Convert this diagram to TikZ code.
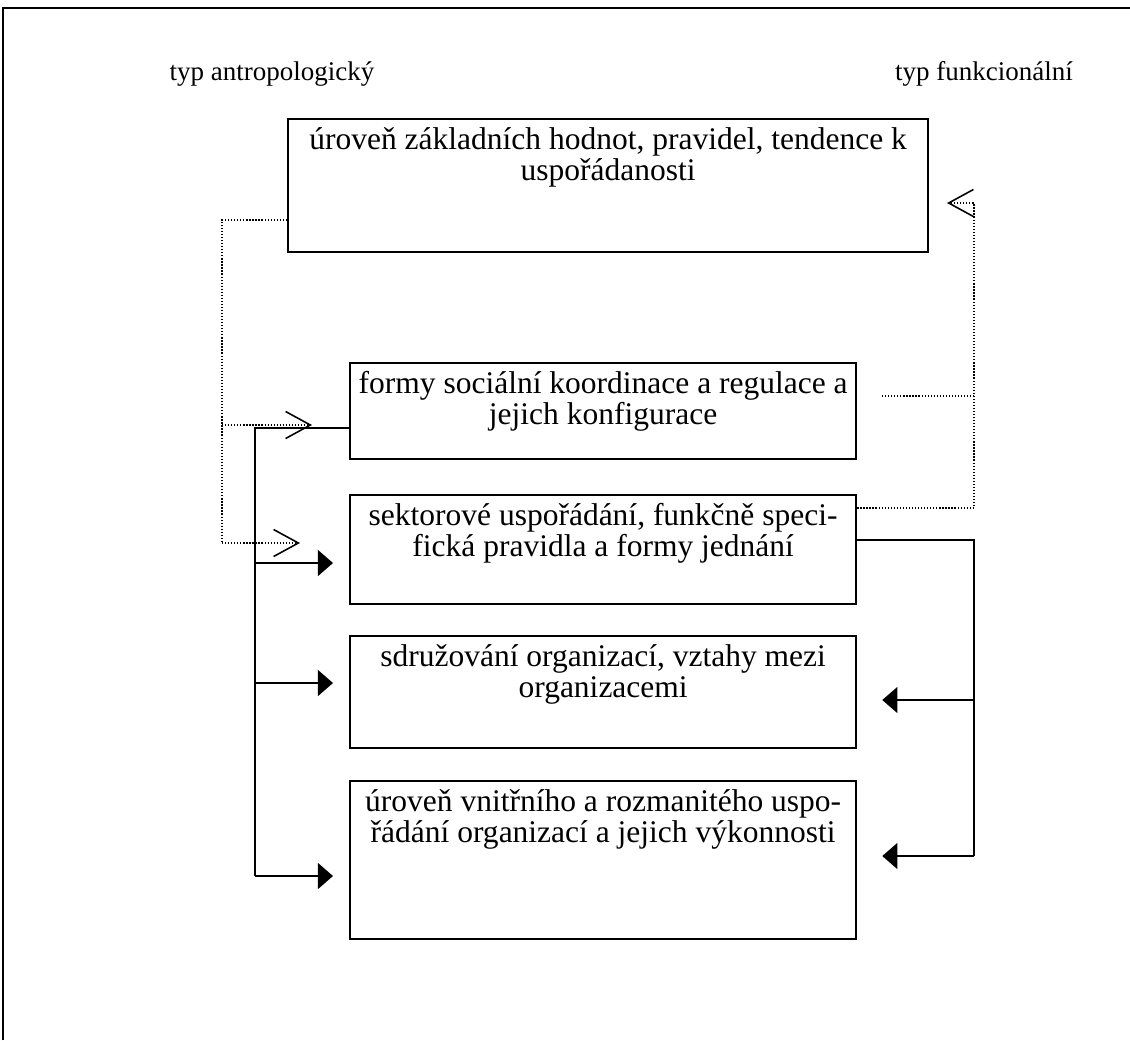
\documentclass[tikz,border=0pt]{standalone}
\usepackage{fontspec}
\setmainfont{Liberation Serif}
\usetikzlibrary{arrows.meta,calc}
\newcommand\boxtext[1]{\parbox[t]{380pt}{\centering #1}}
\begin{document}
\begin{tikzpicture}[x=0.4444pt,y=-0.4444pt,
  box/.style={draw, line width=1.0pt, inner sep=0pt, anchor=north west},
  txt/.style={inner sep=0pt, anchor=base, font=\fontsize{12}{13.8}\selectfont},
  btxt/.style={inner sep=0pt, anchor=base, font=\fontsize{14}{14}\selectfont},
  conn/.style={line width=0.7pt},
  fillarrow/.style={conn, -{Triangle[length=6.7pt,width=11.5pt]}},
  dotline/.style={line width=0.6pt, dash pattern=on 0.55pt off 0.8pt},
  openarrow/.style={dotline, -{Straight Barb[length=11pt,width=12pt,line width=0.7pt]}}
]
\useasboundingbox (0,0) rectangle (1130,1040);
% frame
\draw[line width=0.9pt] (3,1040) -- (3,8) -- (1130,8);
% headings
\node[txt] (ta) at (272,80) {typ antropologický};
\node[txt] (tf) at (984,80) {typ funkcionální};
% boxes
\node[box, minimum width=640*0.4444pt, minimum height=133*0.4444pt] (b1) at (287,118) {};
\node[box, minimum width=506*0.4444pt, minimum height=96*0.4444pt] (b2) at (349,362) {};
\node[box, minimum width=506*0.4444pt, minimum height=109*0.4444pt] (b3) at (349,494) {};
\node[box, minimum width=506*0.4444pt, minimum height=112*0.4444pt] (b4) at (349,635) {};
\node[box, minimum width=506*0.4444pt, minimum height=158*0.4444pt] (b5) at (349,780) {};
% box texts
\node[btxt] (t1) at ($(b1.north)+(0,31)$) {\boxtext{úroveň základních hodnot, pravidel, tendence k\\uspořádanosti}};
\node[btxt] (t2) at ($(b2.north)+(0,31)$) {\boxtext{formy sociální koordinace a regulace a\\jejich konfigurace}};
\node[btxt] (t3) at ($(b3.north)+(0,31)$) {\boxtext{sektorové uspořádání, funkčně speci-\\fická pravidla a formy jednání}};
\node[btxt] (t4) at ($(b4.north)+(0,31)$) {\boxtext{sdružování organizací, vztahy mezi\\organizacemi}};
\node[btxt] (t5) at ($(b5.north)+(0,31)$) {\boxtext{úroveň vnitřního a rozmanitého uspo-\\řádání organizací a jejich výkonnosti}};
% coordinates for free ends
\coordinate (dl) at (222,220);
\coordinate (dlb) at (222,543);
\coordinate (da1) at (312,425);
\coordinate (da2) at (300,543);
\coordinate (sl) at (255,428);
\coordinate (slb) at (255,876);
\coordinate (sr) at (974,540);
\coordinate (srb) at (974,856);
\coordinate (dr) at (974,508);
\coordinate (drt) at (974,203);
\coordinate (dra) at (947,203);
\coordinate (drm) at (882,396);
% left dotted (anthropological)
\draw[dotline] (b1.west |- dl) -- (dl) -- (dlb);
\draw[openarrow] (dl |- da1) -- (da1);
\draw[openarrow] (dlb) -- (da2);
% right dotted (functional)
\draw[openarrow] (b3.east |- dr) -- (dr) -- (drt) -- (dra);
\draw[dotline] (drm) -- (dr |- drm);
% left solid
\draw[conn] (b2.west |- sl) -- (sl) -- (slb);
\draw[fillarrow] (sl |- 0,563) -- ($(b3.west |- 0,563)+(-16,0)$);
\draw[fillarrow] (sl |- 0,683) -- ($(b4.west |- 0,683)+(-16,0)$);
\draw[fillarrow] (slb) -- ($(b5.west |- slb)+(-16,0)$);
% right solid
\draw[conn] (b3.east |- sr) -- (sr) -- (srb);
\draw[fillarrow] (sr |- 0,700) -- ($(b4.east |- 0,700)+(25,0)$);
\draw[fillarrow] (srb) -- ($(b5.east |- srb)+(25,0)$);
\end{tikzpicture}
\end{document}
